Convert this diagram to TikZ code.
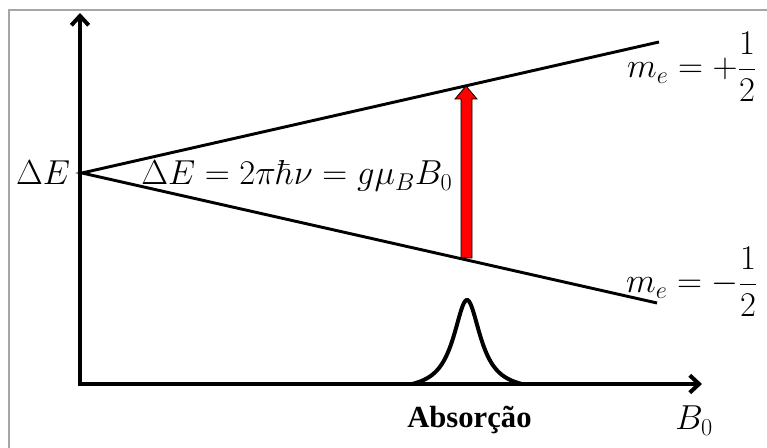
\RequirePackage{fix-cm}
\documentclass[tikz,border=0pt]{standalone}
\usepackage{amsmath}
\usepackage[no-math]{fontspec}
\newfontfamily\labelfont{Liberation Serif}
\usetikzlibrary{arrows.meta}
\definecolor{framegray}{HTML}{A6A6A6}
\tikzset{
  axis/.style={{Straight Barb[length=7pt,width=13pt]}-{Straight Barb[length=7pt,width=13pt]}, line width=3pt, line join=miter},
  level/.style={line width=2.2pt},
  peak/.style={line width=3pt, line cap=round},
  frame/.style={line width=2.2pt, color=framegray},
  transition/.style={fill=red, draw=black, line width=0.6pt, line join=miter},
  every node/.append style={inner sep=0pt, font=\fontsize{26}{30}\selectfont}
}

\begin{document}
\begin{tikzpicture}[x=0.75pt, y=-0.75pt]
\useasboundingbox (0,0) rectangle (767,448);
\draw[frame] (9,448) -- (9,10) -- (767,10);

\coordinate (O) at (80,384);
\coordinate (ytop) at (80,13);
\coordinate (xend) at (702,384);
\draw[axis] (ytop) -- (O) -- (xend);

% energy levels
\coordinate (V) at (82,173);
\coordinate (up) at (659,42);
\coordinate (lo) at (657,303);
\draw[level] (up) -- (V) -- (lo);

% resonance
\draw[transition] (461,258) -- (461,99) -- (455,99) -- (466,86) -- (477,99)
  -- (472,99) -- (472,258) -- cycle;
\draw[peak] plot[domain=412:522, samples=90]
  (\x, {384 - 84*(1/(1+((\x-467)/16.5)^2) - 0.083)/0.917});

\node[anchor=base] (dE) at (43,185) {$\Delta E$};
\node[anchor=base west] (eq) at (141,185) {$\Delta E = 2\pi\hbar\nu = g\mu_B B_0$};
\node[anchor=base east] (mup) at (757,78) {$m_e = +\dfrac{1}{2}$};
\node[anchor=base east] (mlo) at (758,293) {$m_e = -\dfrac{1}{2}$};
\node[anchor=base west] (B) at (675,430) {$B_0$};
\node[anchor=base west] (abs) at (407,428) {\labelfont\fontsize{23}{27}\selectfont\bfseries Absorção};
\end{tikzpicture}
\end{document}
